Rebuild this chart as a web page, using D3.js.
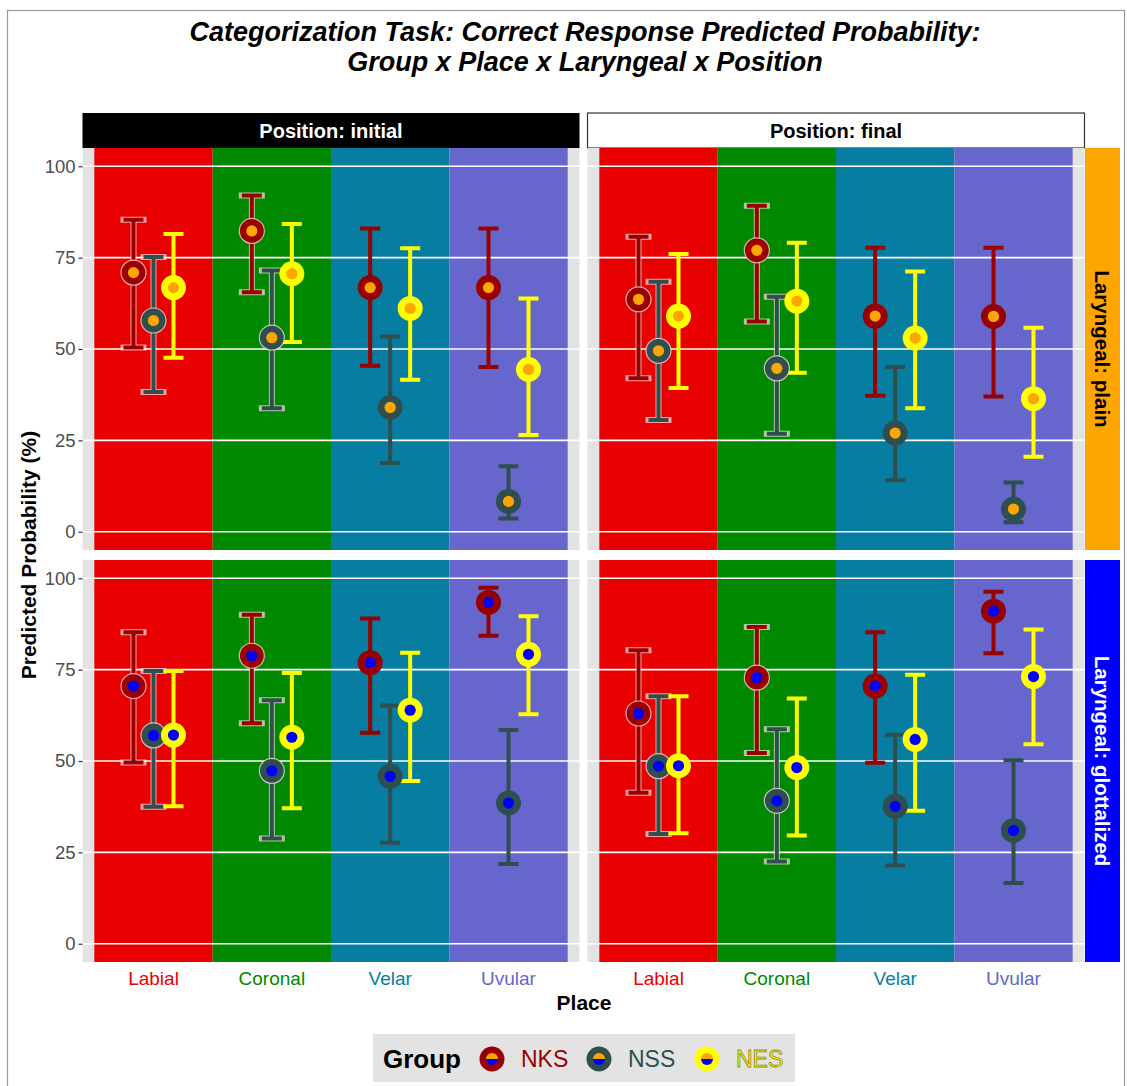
<!DOCTYPE html>
<html>
<head>
<meta charset="utf-8">
<script src="https://cdn.jsdelivr.net/npm/d3@7"></script>
<style>
  html, body { margin: 0; padding: 0; background: #ffffff; }
  svg { display: block; font-family: "Liberation Sans", Arial, Helvetica, sans-serif; }
</style>
</head>
<body>
<script>
// ---- categories ----
const places = ["Labial", "Coronal", "Velar", "Uvular"];
const groups = ["NKS", "NSS", "NES"];
const positions = ["initial", "final"];
const laryngeals = ["plain", "glottalized"];
const yTicks = [0, 25, 50, 75, 100];

// ---- predicted probability (%) : rows = groups (NKS, NSS, NES), columns = places ----
const plainInitialEst = [[70.9, 82.3, 66.8, 66.8], [57.8, 53.1, 34.0, 8.3], [66.8, 70.6, 61.1, 44.4]];
const plainInitialLo  = [[50.4, 65.5, 45.4, 45.1], [38.2, 33.8, 18.8, 3.6], [47.6, 51.9, 41.6, 26.5]];
const plainInitialHi  = [[85.4, 92.0, 83.0, 83.0], [75.2, 71.5, 53.4, 17.9], [81.5, 84.2, 77.6, 63.8]];

const plainFinalEst = [[63.6, 77.0, 59.0, 58.9], [49.5, 44.7, 27.0, 6.2], [59.0, 63.1, 53.0, 36.4]];
const plainFinalLo  = [[42.0, 57.5, 37.2, 37.0], [30.6, 26.8, 14.1, 2.6], [39.3, 43.5, 33.8, 20.5]];
const plainFinalHi  = [[80.7, 89.2, 77.7, 77.7], [68.4, 64.3, 45.1, 13.5], [76.0, 79.1, 71.2, 55.8]];

const glottInitialEst = [[70.5, 78.8, 76.9, 93.4], [57.0, 47.3, 45.8, 38.5], [57.1, 56.5, 63.9, 79.2]];
const glottInitialLo  = [[49.6, 60.3, 57.7, 84.3], [37.5, 28.8, 27.6, 21.8], [37.6, 37.1, 44.5, 62.8]];
const glottInitialHi  = [[85.2, 90.0, 89.0, 97.4], [74.6, 66.6, 65.2, 58.5], [74.6, 74.1, 79.6, 89.6]];

const glottFinalEst = [[63.0, 72.8, 70.5, 91.0], [48.6, 39.1, 37.6, 31.0], [48.7, 48.2, 55.9, 73.1]];
const glottFinalLo  = [[41.3, 52.2, 49.5, 79.5], [30.0, 22.5, 21.4, 16.6], [30.2, 29.6, 36.4, 54.6]];
const glottFinalHi  = [[80.3, 86.7, 85.2, 96.3], [67.7, 58.7, 57.2, 50.2], [67.7, 67.1, 73.6, 86.0]];

// ---- colours ----
const placeColors = { Labial: "#E80000", Coronal: "#008800", Velar: "#077DA1", Uvular: "#6666CC" };
const groupColors = { NKS: "#990000", NSS: "#2F4F4F", NES: "#FFFF00" };
const laryngealColors = { plain: "#FFA500", glottalized: "#0000FF" };
const laryngealText = { plain: "#000000", glottalized: "#FFFFFF" };
const outlinedPlaces = new Set(["Labial", "Coronal"]);

// ---- assemble panel data ----
const panelTables = {
  "plain|initial": [plainInitialEst, plainInitialLo, plainInitialHi],
  "plain|final": [plainFinalEst, plainFinalLo, plainFinalHi],
  "glottalized|initial": [glottInitialEst, glottInitialLo, glottInitialHi],
  "glottalized|final": [glottFinalEst, glottFinalLo, glottFinalHi]
};
function rowsFor(lar, pos) {
  const [est, lo, hi] = panelTables[lar + "|" + pos];
  const rows = [];
  groups.forEach((g, gi) => places.forEach((p, pi) => {
    rows.push({ group: g, place: p, est: est[gi][pi], lo: lo[gi][pi], hi: hi[gi][pi], lar });
  }));
  return rows;
}
const haloed = d => outlinedPlaces.has(d.place) && d.group !== "NES";

// ---- layout ----
const W = 1127, H = 1086;
const svg = d3.select("body").append("svg").attr("width", W).attr("height", H);

svg.append("rect").attr("x", 7.5).attr("y", 10.5).attr("width", 1117).attr("height", 1100)
  .attr("fill", "#ffffff").attr("stroke", "#9a9a9a").attr("stroke-width", 1.2);

const colX = [82.5, 587.5];
const panelW = 497;
const rowY = [148, 560];
const panelH = 402;

// title
const title = svg.append("text").attr("text-anchor", "middle")
  .attr("font-weight", "bold").attr("font-style", "italic").attr("font-size", 27).attr("fill", "#000");
title.append("tspan").attr("x", 585).attr("y", 41).text("Categorization Task: Correct Response Predicted Probability:");
title.append("tspan").attr("x", 585).attr("y", 71).text("Group x Place x Laryngeal x Position");

const y = d3.scaleLinear().domain([-5, 105]).range([panelH, 0]);
const dodge = d3.scalePoint().domain(groups).range([-20, 20]);

positions.forEach((pos, ci) => {
  const x = d3.scaleBand().domain(places).range([0, panelW]).paddingInner(0).paddingOuter(0.1);

  // top strip
  const strip = svg.append("g").attr("transform", `translate(${colX[ci]},113)`);
  strip.append("rect").attr("width", panelW).attr("height", 35)
    .attr("fill", ci === 0 ? "#000000" : "#ffffff")
    .attr("stroke", ci === 0 ? "none" : "#333333").attr("stroke-width", 1.2);
  strip.append("text").attr("x", panelW / 2).attr("y", 24.5).attr("text-anchor", "middle")
    .attr("font-weight", "bold").attr("font-size", 20)
    .attr("fill", ci === 0 ? "#ffffff" : "#000000").text("Position: " + pos);

  laryngeals.forEach((lar, ri) => {
    const g = svg.append("g").attr("transform", `translate(${colX[ci]},${rowY[ri]})`);
    const rows = rowsFor(lar, pos);

    g.append("rect").attr("width", panelW).attr("height", panelH).attr("fill", "#E3E3E3");

    g.selectAll("rect.place").data(places).join("rect").attr("class", "place")
      .attr("x", d => x(d)).attr("width", x.bandwidth())
      .attr("y", 0).attr("height", panelH).attr("fill", d => placeColors[d]);

    g.selectAll("line.grid").data(yTicks).join("line").attr("class", "grid")
      .attr("x1", 0).attr("x2", panelW).attr("y1", d => y(d)).attr("y2", d => y(d))
      .attr("stroke", "#ffffff").attr("stroke-width", 1.6);

    const cx = d => x(d.place) + x.bandwidth() / 2 + dodge(d.group);
    const barPath = d => {
      const c = cx(d), h = 10;
      return `M${c - h},${y(d.hi)}H${c + h}M${c},${y(d.hi)}V${y(d.lo)}M${c - h},${y(d.lo)}H${c + h}`;
    };

    // light halo behind the darker error bars on the red and green bands
    g.selectAll("path.halo").data(rows.filter(haloed)).join("path")
      .attr("class", "halo").attr("d", barPath).attr("fill", "none")
      .attr("stroke", "rgba(255,225,225,0.7)").attr("stroke-width", 6).attr("stroke-linecap", "square");
    g.selectAll("path.bar").data(rows).join("path").attr("class", "bar")
      .attr("d", barPath).attr("fill", "none")
      .attr("stroke", d => groupColors[d.group]).attr("stroke-width", 4);

    g.selectAll("circle.outer").data(rows).join("circle").attr("class", "outer")
      .attr("cx", cx).attr("cy", d => y(d.est)).attr("r", 12.5)
      .attr("fill", d => groupColors[d.group])
      .attr("stroke", d => haloed(d) ? "rgba(255,225,225,0.75)" : "none")
      .attr("stroke-width", 1.2);
    g.selectAll("circle.inner").data(rows).join("circle").attr("class", "inner")
      .attr("cx", cx).attr("cy", d => y(d.est)).attr("r", 5.6)
      .attr("fill", d => laryngealColors[d.lar]);

    // y axis on the left column
    if (ci === 0) {
      const ax = g.append("g").call(d3.axisLeft(y).tickValues(yTicks).tickSize(4).tickPadding(3));
      ax.select(".domain").remove();
      ax.selectAll(".tick line").attr("stroke", "#333333").attr("stroke-width", 1.2);
      ax.selectAll(".tick text").attr("fill", "#4D4D4D").attr("font-size", 18.5)
        .attr("font-family", "Liberation Sans, Arial, sans-serif");
    }

    // x axis labels on the bottom row
    if (ri === laryngeals.length - 1) {
      const ax = g.append("g").attr("transform", `translate(0,${panelH})`)
        .call(d3.axisBottom(x).tickSize(0).tickPadding(10));
      ax.select(".domain").remove();
      ax.selectAll(".tick text").attr("fill", d => placeColors[d]).attr("font-size", 19)
        .attr("font-family", "Liberation Sans, Arial, sans-serif");
    }

    // right strip
    if (ci === positions.length - 1) {
      const rs = svg.append("g").attr("transform", `translate(1085,${rowY[ri]})`);
      rs.append("rect").attr("width", 35).attr("height", panelH).attr("fill", laryngealColors[lar]);
      rs.append("text").attr("transform", `translate(10,${panelH / 2}) rotate(90)`)
        .attr("text-anchor", "middle").attr("font-weight", "bold").attr("font-size", 20.5)
        .attr("fill", laryngealText[lar]).text("Laryngeal: " + lar);
    }
  });
});

// axis titles
svg.append("text").attr("transform", "translate(36,555) rotate(-90)").attr("text-anchor", "middle")
  .attr("font-weight", "bold").attr("font-size", 21).attr("fill", "#000").text("Predicted Probability (%)");
svg.append("text").attr("x", 584).attr("y", 1010).attr("text-anchor", "middle")
  .attr("font-weight", "bold").attr("font-size", 21).attr("fill", "#000").text("Place");

// legend
const lg = svg.append("g");
lg.append("rect").attr("x", 373).attr("y", 1034).attr("width", 422).attr("height", 48).attr("fill", "#E3E3E3");
lg.append("text").attr("x", 383).attr("y", 1068).attr("font-weight", "bold").attr("font-size", 26)
  .attr("fill", "#000").text("Group");
const keyX = { NKS: 492, NSS: 599, NES: 707 };
const halfArc = (start, end) => d3.arc().innerRadius(0).outerRadius(6).startAngle(start).endAngle(end)();
groups.forEach(gname => {
  const k = lg.append("g").attr("transform", `translate(${keyX[gname]},1059)`);
  k.append("circle").attr("r", 12.5).attr("fill", groupColors[gname]);
  k.append("path").attr("d", halfArc(-Math.PI / 2, Math.PI / 2)).attr("fill", laryngealColors.plain);
  k.append("path").attr("d", halfArc(Math.PI / 2, 3 * Math.PI / 2)).attr("fill", laryngealColors.glottalized);
  const t = lg.append("text").attr("x", keyX[gname] + 29).attr("y", 1067).attr("font-size", 23)
    .attr("fill", groupColors[gname]).text(gname);
  if (gname === "NES") t.attr("stroke", "#8a8a20").attr("stroke-width", 0.8);
});
</script>
</body>
</html>
